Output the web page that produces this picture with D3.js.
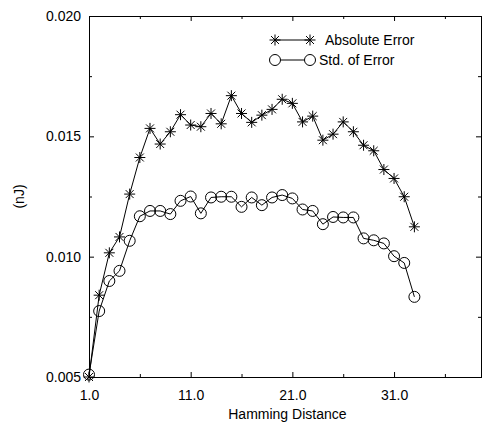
<!DOCTYPE html>
<html>
<head>
<meta charset="utf-8">
<script src="https://cdn.jsdelivr.net/npm/d3@7"></script>
<style>
  body { margin: 0; background: #fff; }
  text { font-family: "Liberation Sans", Arial, sans-serif; }
</style>
</head>
<body>
<div id="chart"></div>
<script>
// hamming distance 1..33
const distances = d3.range(1, 34);

const absError = [
  0.0050, 0.0084, 0.01016, 0.01082, 0.0126, 0.01412, 0.01533, 0.01468, 0.01519, 0.01590,
  0.01547, 0.0154, 0.01595, 0.01552, 0.01669, 0.01595, 0.01558, 0.01588, 0.01612, 0.01654,
  0.01637, 0.0156, 0.01584, 0.01484, 0.01509, 0.0156, 0.01519, 0.01463, 0.0144, 0.01362,
  0.01325, 0.01249, 0.01124
];

const stdError = [
  0.0051, 0.00774, 0.00899, 0.00941, 0.01066, 0.01168, 0.0119, 0.0119, 0.01177, 0.01232,
  0.0125, 0.0118, 0.01246, 0.01249, 0.01249, 0.01207, 0.01246, 0.01214, 0.01246, 0.01256,
  0.01242, 0.01196, 0.0119, 0.01135, 0.01165, 0.01163, 0.01163, 0.01076, 0.01068, 0.01055,
  0.01002, 0.00974, 0.00833
];

const xMajor = [1, 11, 21, 31];
const xMinor = [6, 16, 26, 36];
const yMajor = [0.005, 0.010, 0.015, 0.020];
const yMinor = [0.0075, 0.0125, 0.0175];

const seriesNames = ["Absolute Error", "Std. of Error"];

// set the dimensions and margins of the graph
const width = 482, height = 426;
const margin = {top: 16, right: 1, bottom: 49, left: 89};
const innerW = width - margin.left - margin.right,
      innerH = height - margin.top - margin.bottom;

const svg = d3.select("#chart")
  .append("svg")
  .attr("width", width)
  .attr("height", height);

const g = svg.append("g")
  .attr("transform", `translate(${margin.left}, ${margin.top})`);

const x = d3.scaleLinear().domain([1, 39.55]).range([0, innerW]);
const y = d3.scaleLinear().domain([0.005, 0.020]).range([innerH, 0]);

// axes - ticks point inward, mirrored on top/right
g.append("g")
  .attr("transform", `translate(0, ${innerH})`)
  .call(d3.axisBottom(x).tickValues(xMajor).tickSize(-5).tickPadding(13).tickFormat(d3.format(".1f")));
g.append("g")
  .attr("transform", `translate(0, ${innerH})`)
  .call(d3.axisBottom(x).tickValues(xMinor).tickSize(-3).tickFormat(""));
g.append("g")
  .call(d3.axisTop(x).tickValues(xMajor).tickSize(-5).tickFormat(""));
g.append("g")
  .call(d3.axisTop(x).tickValues(xMinor).tickSize(-3).tickFormat(""));

g.append("g")
  .call(d3.axisLeft(y).tickValues(yMajor).tickSize(-5).tickPadding(8).tickFormat(d3.format(".3f")));
g.append("g")
  .call(d3.axisLeft(y).tickValues(yMinor).tickSize(-3).tickFormat(""));
g.append("g")
  .attr("transform", `translate(${innerW}, 0)`)
  .call(d3.axisRight(y).tickValues(yMajor).tickSize(-5).tickFormat(""));
g.append("g")
  .attr("transform", `translate(${innerW}, 0)`)
  .call(d3.axisRight(y).tickValues(yMinor).tickSize(-3).tickFormat(""));

g.selectAll(".domain").attr("stroke", "#000");
g.selectAll(".tick line").attr("stroke", "#000");
g.selectAll(".tick text")
  .attr("font-size", 14)
  .attr("font-family", "Liberation Sans, Arial, sans-serif")
  .attr("fill", "#000");

// axis titles
svg.append("text")
  .attr("x", margin.left + x(21) - 5)
  .attr("y", 419)
  .attr("text-anchor", "middle")
  .attr("font-size", 14)
  .text("Hamming Distance");

svg.append("text")
  .attr("transform", `translate(24, ${margin.top + innerH / 2}) rotate(-90)`)
  .attr("text-anchor", "middle")
  .attr("font-size", 14)
  .text("(nJ)");

// markers
function star(sel, s) {
  sel.append("path")
    .attr("d", `M${-s},0H${s}M0,${-s}V${s}M${-s*0.72},${-s*0.72}L${s*0.72},${s*0.72}M${-s*0.72},${s*0.72}L${s*0.72},${-s*0.72}`)
    .attr("stroke", "#000")
    .attr("stroke-width", 1)
    .attr("fill", "none");
}

const line = d3.line()
  .x((d, i) => x(distances[i]))
  .y(d => y(d));

// Absolute Error
g.append("path")
  .datum(absError)
  .attr("d", line)
  .attr("fill", "none")
  .attr("stroke", "#000")
  .attr("stroke-width", 1);

g.selectAll("g.star")
  .data(absError)
  .join("g")
    .attr("class", "star")
    .attr("transform", (d, i) => `translate(${x(distances[i])}, ${y(d)})`)
    .each(function() { star(d3.select(this), 5.5); });

// Std. of Error
g.append("path")
  .datum(stdError)
  .attr("d", line)
  .attr("fill", "none")
  .attr("stroke", "#000")
  .attr("stroke-width", 1);

g.selectAll("circle.std")
  .data(stdError)
  .join("circle")
    .attr("class", "std")
    .attr("cx", (d, i) => x(distances[i]))
    .attr("cy", d => y(d))
    .attr("r", 5.5)
    .attr("fill", "none")
    .attr("stroke", "#000")
    .attr("stroke-width", 1);

// legend
const legend = svg.append("g");
const lx1 = 275, lx2 = 310;

legend.append("line")
  .attr("x1", lx1).attr("x2", lx2).attr("y1", 40).attr("y2", 40)
  .attr("stroke", "#000");
[lx1, lx2].forEach(px => {
  const m = legend.append("g").attr("transform", `translate(${px}, 40)`);
  star(m, 5.5);
});
legend.append("text")
  .attr("x", 325).attr("y", 45)
  .attr("font-size", 14)
  .text(seriesNames[0]);

legend.append("line")
  .attr("x1", lx1 + 5.5).attr("x2", lx2 - 5.5).attr("y1", 60).attr("y2", 60)
  .attr("stroke", "#000");
[lx1, lx2].forEach(px => {
  legend.append("circle")
    .attr("cx", px).attr("cy", 60).attr("r", 5.5)
    .attr("fill", "none").attr("stroke", "#000");
});
legend.append("text")
  .attr("x", 319).attr("y", 65)
  .attr("font-size", 14)
  .text(seriesNames[1]);
</script>
</body>
</html>
